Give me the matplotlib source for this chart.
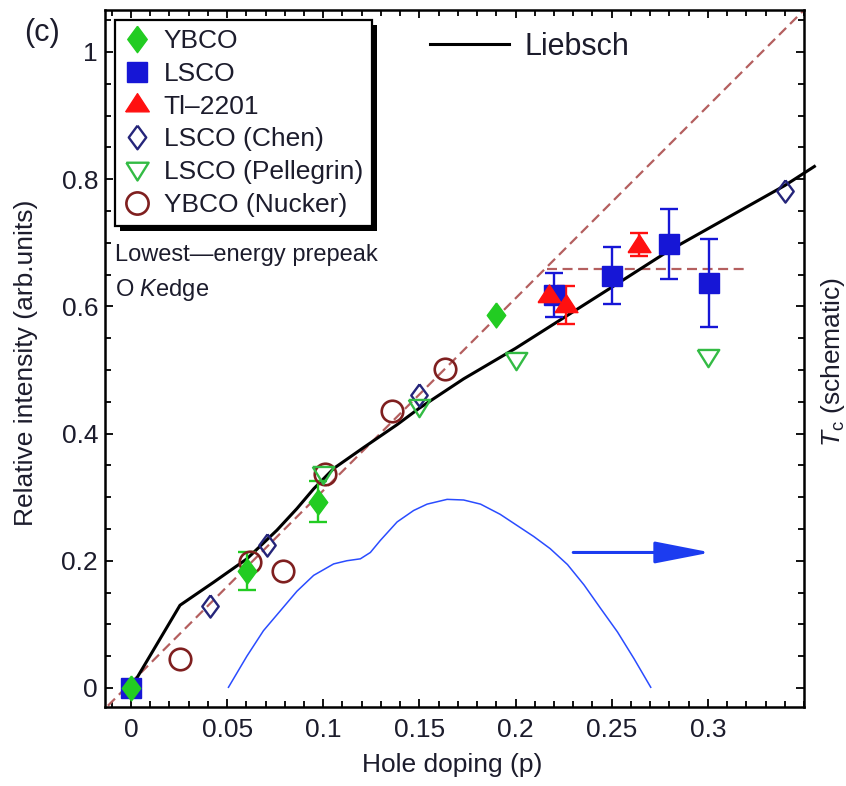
import numpy as np
import matplotlib
matplotlib.use("Agg")
import matplotlib.pyplot as plt
from matplotlib.lines import Line2D
from matplotlib.ticker import MultipleLocator, FuncFormatter
from matplotlib import patheffects

plt.rcParams['font.family'] = ['Liberation Sans', 'DejaVu Sans']
plt.rcParams['mathtext.fontset'] = 'custom'
plt.rcParams['mathtext.rm'] = 'Liberation Sans'
plt.rcParams['mathtext.it'] = 'Liberation Sans:italic'

# ---------------- data ----------------
ybco_p = [0.0, 0.0604, 0.0974, 0.19]
ybco_v = [0.0, 0.184, 0.293, 0.586]
ybco_err = [0.0, 0.03, 0.032, 0.0]

lsco_p = [0.0, 0.22, 0.2503, 0.2799, 0.3007]
lsco_v = [0.0, 0.618, 0.6485, 0.698, 0.637]
lsco_err = [0.0, 0.034, 0.0455, 0.055, 0.069]

tl_p = [0.2174, 0.226, 0.2642]
tl_v = [0.618, 0.6015, 0.697]
tl_err = [0.0, 0.03, 0.018]

chen_p = [0.041, 0.071, 0.150, 0.34]
chen_v = [0.129, 0.225, 0.460, 0.781]

pell_p = [0.100, 0.150, 0.200, 0.300]
pell_v = [0.337, 0.442, 0.515, 0.521]

nuck_p = [0.0255, 0.062, 0.079, 0.101, 0.136, 0.1635]
nuck_v = [0.046, 0.198, 0.184, 0.337, 0.436, 0.502]

liebsch_p = [0.0, 0.0255, 0.0429, 0.0603, 0.0759, 0.0863, 0.095, 0.1054, 0.121,
             0.1384, 0.15, 0.173, 0.2, 0.25, 0.28, 0.34, 0.3554]
liebsch_v = [0.0, 0.130, 0.166, 0.203, 0.248, 0.282, 0.313, 0.345, 0.378,
             0.414, 0.440, 0.486, 0.534, 0.630, 0.688, 0.790, 0.820]

diag_p = [-0.012, 0.352]
diag_v = [-0.028, 1.072]

flat_p = [0.2165, 0.321]
flat_v = [0.658, 0.658]

tc_p = [0.0507, 0.0603, 0.0689, 0.0776, 0.0863, 0.095, 0.1054, 0.1123, 0.1193,
        0.1245, 0.1297, 0.1384, 0.147, 0.154, 0.1644, 0.173, 0.1818, 0.192,
        0.2095, 0.218, 0.227, 0.2356, 0.244, 0.253, 0.2616, 0.2703]
tc_v = [0.001, 0.050, 0.090, 0.121, 0.152, 0.177, 0.195, 0.200, 0.203,
        0.213, 0.232, 0.261, 0.279, 0.289, 0.2965, 0.2955, 0.289, 0.273,
        0.238, 0.219, 0.194, 0.162, 0.126, 0.088, 0.046, 0.001]

arrow_p = [0.23, 0.3015]
arrow_v = [0.213, 0.213]

xticks = [0, 0.05, 0.1, 0.15, 0.2, 0.25, 0.3]
yticks = [0, 0.2, 0.4, 0.6, 0.8, 1.0]

# ---------------- styles ----------------
c_ybco = '#22cc22'
c_lsco = '#1616d6'
c_tl = '#ff1010'
c_chen = '#25257a'
c_pell = '#33bb44'
c_nuck = '#7f1f1f'
c_dash = '#b45f5f'
c_tc = '#2a4cff'
c_txt = '#1c1c2c'

diamond = [(0, 1), (0.74, 0), (0, -1), (-0.74, 0), (0, 1)]
tri_up = [(-1, -0.62), (1, -0.62), (0, 0.92), (-1, -0.62)]
tri_dn = [(-1, 0.7), (1, 0.7), (0, -0.9), (-1, 0.7)]

fig = plt.figure(figsize=(8.46, 7.86), dpi=100)
ax = fig.add_axes([105 / 846, 1 - 707 / 786, 699 / 846, 697 / 786])

ax.set_xlim(-0.0135, 0.35)
ax.set_ylim(-0.03, 1.066)

# lines
ax.plot(diag_p, diag_v, color=c_dash, lw=1.6, dashes=(4.5, 2.5), zorder=2)
ax.plot(flat_p, flat_v, color=c_dash, lw=1.6, dashes=(4.5, 2.5), zorder=2)
ax.plot(liebsch_p, liebsch_v, color='black', lw=2.2, zorder=3, clip_on=False,
        solid_joinstyle='round')
ax.plot(tc_p, tc_v, color=c_tc, lw=1.1, zorder=3, solid_joinstyle='round')
ax.annotate('', xy=(arrow_p[1], arrow_v[1]), xytext=(arrow_p[0], arrow_v[0]),
            arrowprops=dict(arrowstyle='-|>,head_length=2.3,head_width=0.45',
                            mutation_scale=15, color='#1c3cf0', lw=2.2,
                            shrinkA=0, shrinkB=0), zorder=3)

def with_err(p, v, e, color):
    m = [i for i in range(len(p)) if e[i] > 0]
    ax.errorbar([p[i] for i in m], [v[i] for i in m], yerr=[e[i] for i in m],
                fmt='none', ecolor=color, elinewidth=1.7, capsize=6.5,
                capthick=1.7, zorder=4)

with_err(lsco_p, lsco_v, lsco_err, c_lsco)
with_err(tl_p, tl_v, tl_err, c_tl)
with_err(ybco_p, ybco_v, ybco_err, c_ybco)

ax.plot(chen_p, chen_v, ls='none', marker=diamond, ms=16, mfc='none',
        mec=c_chen, mew=1.7, zorder=5)
ax.plot(nuck_p, nuck_v, ls='none', marker='o', ms=15.5, mfc='none',
        mec=c_nuck, mew=1.9, zorder=5)
ax.plot(pell_p, pell_v, ls='none', marker=tri_dn, ms=15.5, mfc='none',
        mec=c_pell, mew=1.7, zorder=5)
ax.plot(lsco_p, lsco_v, ls='none', marker='s', ms=14.5, mfc=c_lsco,
        mec=c_lsco, zorder=6)
ax.plot(tl_p, tl_v, ls='none', marker=tri_up, ms=16.5, mfc=c_tl,
        mec=c_tl, zorder=7)
ax.plot(ybco_p, ybco_v, ls='none', marker=diamond, ms=18, mfc=c_ybco,
        mec=c_ybco, zorder=8)

# axes styling
for s in ax.spines.values():
    s.set_linewidth(1.8)
ax.xaxis.set_major_locator(MultipleLocator(0.05))
ax.xaxis.set_minor_locator(MultipleLocator(0.01))
ax.yaxis.set_major_locator(MultipleLocator(0.2))
ax.yaxis.set_minor_locator(MultipleLocator(0.05))
ax.set_xticks(xticks)
ax.set_yticks(yticks)
fmt = FuncFormatter(lambda v, pos: '%g' % round(v, 3))
ax.xaxis.set_major_formatter(fmt)
ax.yaxis.set_major_formatter(fmt)
ax.tick_params(which='both', direction='in', top=True, right=True,
               labelsize=19, labelcolor=c_txt, width=1.3)
ax.tick_params(which='major', length=6)
ax.tick_params(which='minor', length=4.5)
ax.tick_params(axis='x', pad=8)
ax.tick_params(axis='y', pad=5)

ax.set_xlabel('Hole doping (p)', fontsize=19, color=c_txt, va='center')
ax.xaxis.set_label_coords(0.497, (707 - 765) / 697)
ax.set_ylabel('Relative intensity (arb.units)', fontsize=19, color=c_txt,
              va='center')
ax.yaxis.set_label_coords((26 - 105) / 699, (707 - 363) / 697)

fig.text(833 / 846, 1 - 362 / 786, r'$T_\mathrm{c}$ (schematic)',
         rotation=90, ha='center', va='center', fontsize=19, color=c_txt)
fig.text(42 / 846, 1 - 33 / 786, '(c)', ha='center', va='center',
         fontsize=22, color=c_txt)

ax.text((115 - 105) / 699, (707 - 255) / 697, 'Lowest\u2014energy prepeak',
        transform=ax.transAxes, ha='left', va='center', fontsize=17,
        color=c_txt)
ax.text((115 - 105) / 699, (707 - 290) / 697, r'O $K$edge',
        transform=ax.transAxes, ha='left', va='center', fontsize=17,
        color=c_txt)

# legends
handles = [
    Line2D([], [], ls='none', marker=diamond, ms=19, mfc=c_ybco, mec=c_ybco),
    Line2D([], [], ls='none', marker='s', ms=15, mfc=c_lsco, mec=c_lsco),
    Line2D([], [], ls='none', marker=tri_up, ms=17, mfc=c_tl, mec=c_tl),
    Line2D([], [], ls='none', marker=diamond, ms=17, mfc='none', mec=c_chen, mew=1.7),
    Line2D([], [], ls='none', marker=tri_dn, ms=16, mfc='none', mec=c_pell, mew=1.7),
    Line2D([], [], ls='none', marker='o', ms=16, mfc='none', mec=c_nuck, mew=1.9),
]
labels = ['YBCO', 'LSCO', 'Tl\u20132201', 'LSCO (Chen)', 'LSCO (Pellegrin)',
          'YBCO (Nucker)']
leg = ax.legend(handles, labels, loc='upper left',
                bbox_to_anchor=((115 - 105) / 699, (707 - 20) / 697),
                bbox_transform=ax.transAxes, borderaxespad=0,
                fontsize=19, frameon=True, fancybox=False, edgecolor='black',
                framealpha=1, handlelength=1.0, handletextpad=0.5,
                borderpad=0.35, labelspacing=0.33, labelcolor=c_txt)
leg.get_frame().set_linewidth(1.6)
leg.get_frame().set_path_effects([
    patheffects.SimplePatchShadow(offset=(3.5, -3.5), shadow_rgbFace='black',
                                  alpha=1.0),
    patheffects.Normal()])
ax.add_artist(leg)

leg2 = ax.legend([Line2D([], [], color='black', lw=2.2)], ['Liebsch'],
                 loc='center left',
                 bbox_to_anchor=((430 - 105) / 699, (707 - 47) / 697),
                 bbox_transform=ax.transAxes, borderaxespad=0, borderpad=0,
                 frameon=False, fontsize=22, handlelength=2.6,
                 handletextpad=0.5, labelcolor=c_txt)

fig.savefig('out.png', dpi=100)
